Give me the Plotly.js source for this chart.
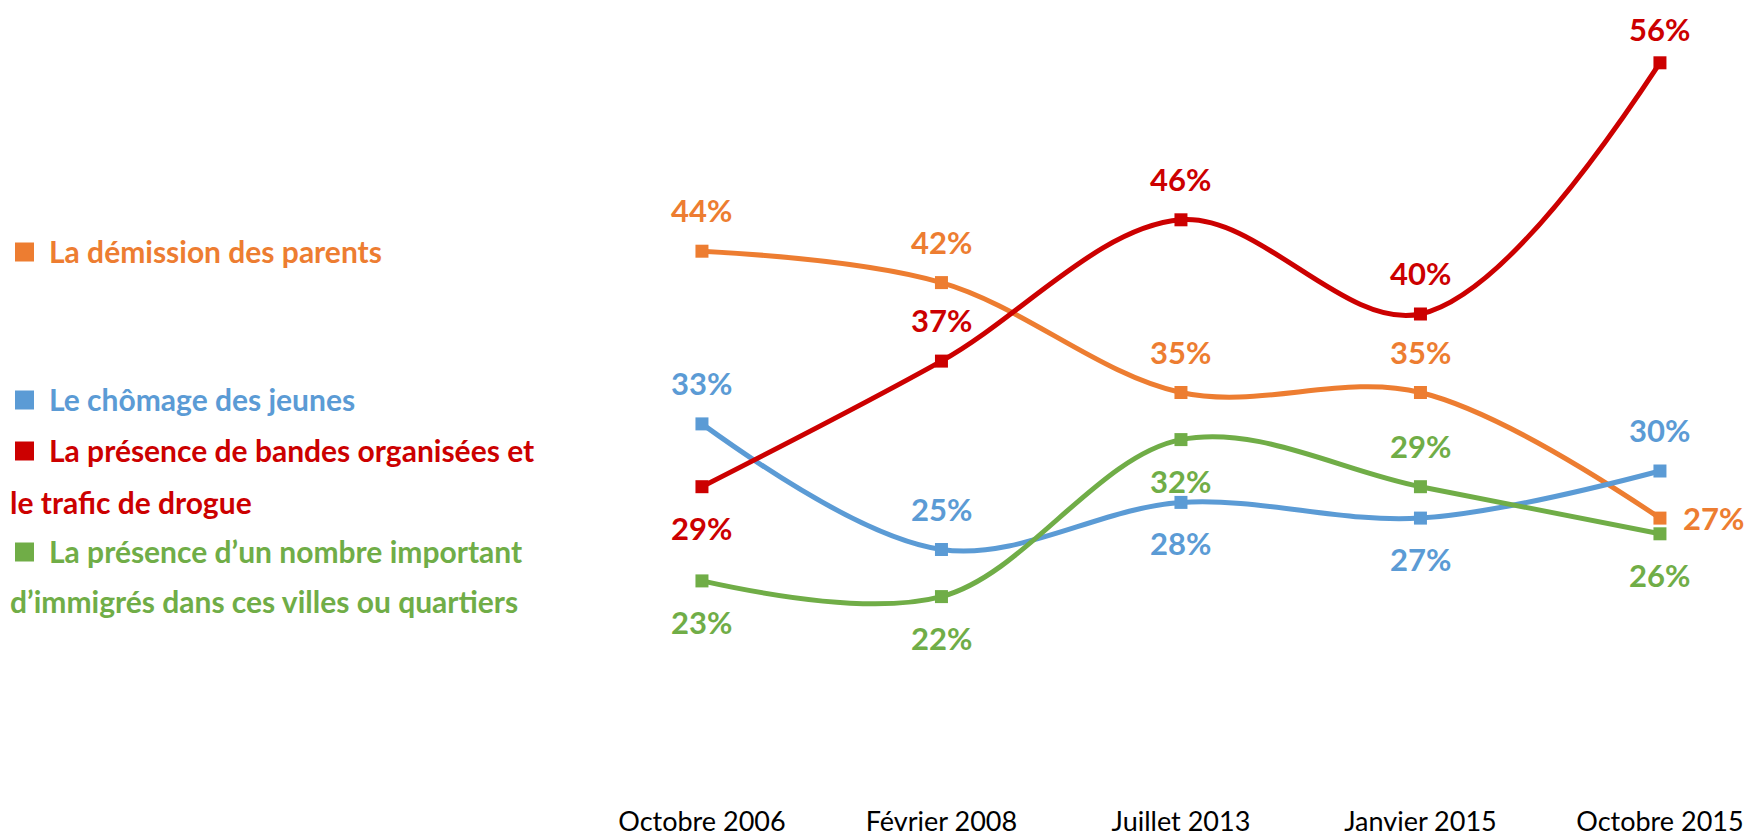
<!DOCTYPE html>
<html>
<head>
<meta charset="utf-8">
<script src="https://cdn.plot.ly/plotly-3.0.1.min.js"></script>
<style>html,body{margin:0;padding:0;background:#fff;}#chart{width:1750px;height:838px;}</style>
</head>
<body>
<div id="chart"></div>
<script>
const categories = ['Octobre 2006', 'Février 2008', 'Juillet 2013', 'Janvier 2015', 'Octobre 2015'];
const demission = [44, 42, 35, 35, 27];
const chomage = [33, 25, 28, 27, 30];
const bandes = [29, 37, 46, 40, 56];
const immigres = [23, 22, 32, 29, 26];

const seriesNames = [
  'La démission des parents',
  'Le chômage des jeunes',
  'La présence de bandes organisées et le trafic de drogue',
  'La présence d’un nombre important d’immigrés dans ces villes ou quartiers'
];
const legendLines = [
  ['La démission des parents'],
  ['Le chômage des jeunes'],
  ['La présence de bandes organisées et', 'le trafic de drogue'],
  ['La présence d’un nombre important', 'd’immigrés dans ces villes ou quartiers']
];

const colors = ['#ED7D31', '#5B9BD5', '#CC0000', '#70AD47'];
const labelPos = [
  ['t', 't', 't', 't', 'r'],
  ['t', 't', 'b', 'b', 't'],
  ['b', 't', 't', 't', 't'],
  ['b', 'b', 'b', 't', 'b']
];
const allSeries = [demission, chomage, bandes, immigres];

const W = 1750, H = 838, T = 0, B = 35;
const PH = H - T - B;
const FONT = 'Lato, "Open Sans", sans-serif';
const YMAX = 60;
const YMIN = YMAX - PH / 15.7;

const traces = allSeries.map((vals, i) => ({
  type: 'scatter',
  mode: 'lines+markers',
  x: categories,
  y: vals,
  name: seriesNames[i],
  line: {color: colors[i], width: 5, shape: 'spline', smoothing: 1},
  marker: {symbol: 'square', size: 13, color: colors[i]},
  hoverinfo: 'x+y',
  cliponaxis: false
}));

const annotations = [];
allSeries.forEach((vals, i) => {
  vals.forEach((v, j) => {
    const p = labelPos[i][j];
    // labels near the top edge are pulled a little closer to their point
    const up = (YMAX - v) < 6 ? 34 : 41;
    annotations.push({
      xref: 'x', yref: 'y', x: categories[j], y: v,
      text: v + '%', showarrow: false,
      font: {family: FONT, size: 31, color: colors[i], weight: 'bold'},
      xanchor: 'center', yanchor: 'middle',
      xshift: p === 'r' ? 54 : 0,
      yshift: p === 't' ? up : (p === 'b' ? -41 : 0)
    });
  });
});

// Legend (custom layout, drawn as text + square shapes)
const legendRowsY = [[251], [399], [450, 502], [551, 601]];
const shapes = [];
legendLines.forEach((lines, i) => {
  lines.forEach((ln, k) => {
    const py = legendRowsY[i][k];
    annotations.push({
      xref: 'paper', yref: 'paper',
      x: (k === 0 ? 47 : 8) / W, y: 1 - (py - T) / PH,
      text: ln, showarrow: false,
      xanchor: 'left', yanchor: 'middle',
      font: {family: FONT, size: 30, color: colors[i], weight: 'bold'}
    });
  });
  const cy = legendRowsY[i][0] + 1;
  shapes.push({
    type: 'rect', xref: 'paper', yref: 'paper',
    x0: 15 / W, x1: 34 / W,
    y0: 1 - (cy + 9.5 - T) / PH, y1: 1 - (cy - 9.5 - T) / PH,
    fillcolor: colors[i], line: {width: 0}
  });
});

const layout = {
  width: W, height: H,
  margin: {l: 0, r: 0, t: T, b: B, pad: 0},
  paper_bgcolor: '#ffffff', plot_bgcolor: '#ffffff',
  showlegend: false,
  xaxis: {
    type: 'category',
    range: [-2.931, 4.376],
    showgrid: false, zeroline: false, showline: false, ticks: '',
    tickfont: {family: FONT, size: 27, color: '#000000'},
    fixedrange: true
  },
  yaxis: {
    range: [YMIN, YMAX],
    showgrid: false, zeroline: false, showline: false, showticklabels: false, ticks: '',
    fixedrange: true
  },
  annotations: annotations,
  shapes: shapes
};

Plotly.newPlot('chart', traces, layout, {displayModeBar: false, staticPlot: false});
</script>
</body>
</html>
